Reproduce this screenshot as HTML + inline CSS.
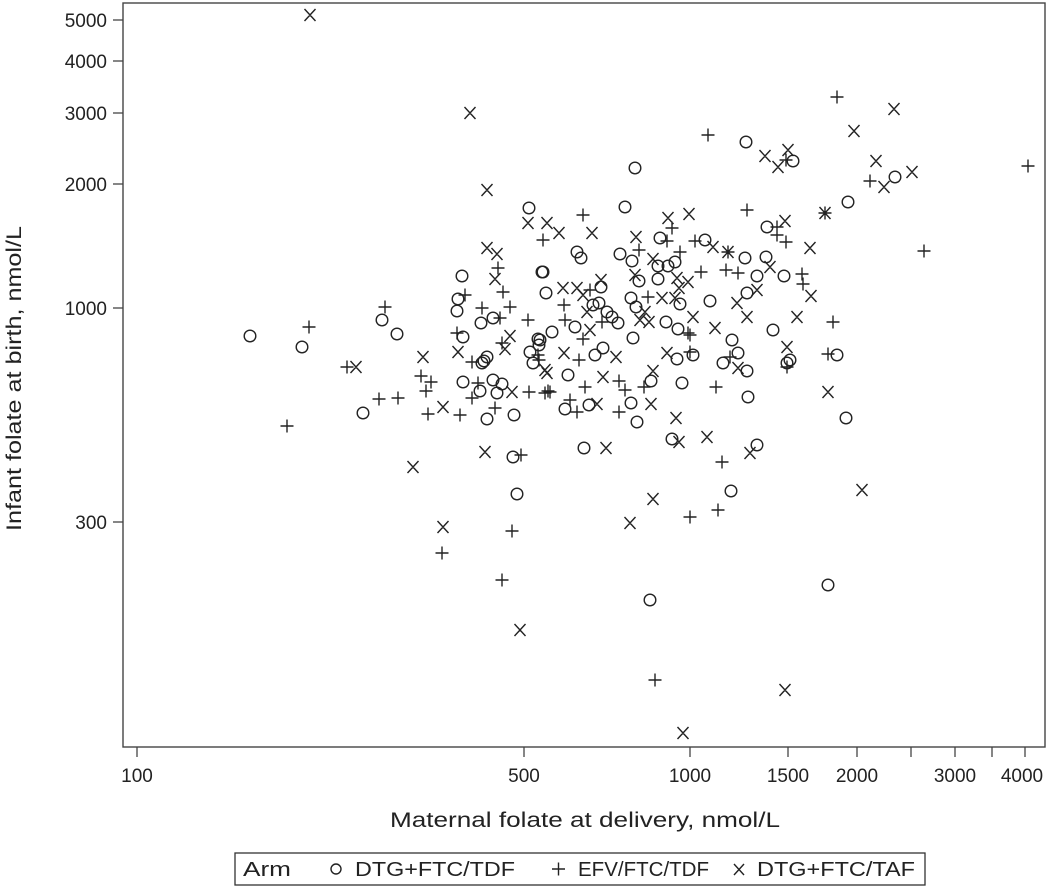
<!DOCTYPE html>
<html><head><meta charset="utf-8"><style>
html,body{margin:0;padding:0;background:#fff;}
svg{display:block;font-family:"Liberation Sans","DejaVu Sans",sans-serif;}
</style></head><body>
<svg id="s" width="1050" height="889" viewBox="0 0 1050 889" xmlns="http://www.w3.org/2000/svg">
<rect x="0" y="0" width="1050" height="889" fill="#fff"/>
<rect x="123" y="3" width="922" height="744" fill="none" stroke="#444" stroke-width="1.4"/>
<g stroke="#444" stroke-width="1.3">
<line x1="113" y1="20" x2="123" y2="20"/><line x1="113" y1="61" x2="123" y2="61"/><line x1="113" y1="113" x2="123" y2="113"/><line x1="113" y1="184" x2="123" y2="184"/><line x1="113" y1="308" x2="123" y2="308"/><line x1="113" y1="522" x2="123" y2="522"/>
<line x1="137" y1="747" x2="137" y2="757"/><line x1="524" y1="747" x2="524" y2="757"/><line x1="690" y1="747" x2="690" y2="757"/><line x1="788" y1="747" x2="788" y2="757"/><line x1="857" y1="747" x2="857" y2="757"/><line x1="911" y1="747" x2="911" y2="757"/><line x1="955" y1="747" x2="955" y2="757"/><line x1="992" y1="747" x2="992" y2="757"/><line x1="1025" y1="747" x2="1025" y2="757"/>
</g>
<g font-size="19" fill="#222" text-anchor="end">
<text x="107" y="27">5000</text><text x="107" y="68">4000</text><text x="107" y="120">3000</text><text x="107" y="191">2000</text><text x="107" y="315">1000</text><text x="107" y="529">300</text>
</g>
<g font-size="19" fill="#222" text-anchor="middle">
<text x="137" y="782">100</text><text x="524" y="782">500</text><text x="690" y="782">1000</text><text x="788" y="782">1500</text><text x="857" y="782">2000</text><text x="955" y="782">3000</text><text x="1022" y="782">4000</text>
</g>
<text x="390" y="827" font-size="21" fill="#222" textLength="390" lengthAdjust="spacingAndGlyphs">Maternal folate at delivery, nmol/L</text>
<text transform="translate(21,531) rotate(-90)" font-size="21" fill="#222" textLength="305" lengthAdjust="spacingAndGlyphs">Infant folate at birth, nmol/L</text>
<rect x="235" y="853" width="690" height="32" fill="none" stroke="#333" stroke-width="1.3"/>
<g font-size="20" fill="#222">
<text x="243" y="876" textLength="48" lengthAdjust="spacingAndGlyphs">Arm</text>
<circle cx="336" cy="869" r="5" fill="none" stroke="#222" stroke-width="1.4"/>
<text x="355" y="876" textLength="160" lengthAdjust="spacingAndGlyphs">DTG+FTC/TDF</text>
<path d="M552,869h13M558.5,862.5v13" stroke="#222" stroke-width="1.4"/>
<text x="578" y="876" textLength="131" lengthAdjust="spacingAndGlyphs">EFV/FTC/TDF</text>
<path d="M734,864l10,11M744,864l-10,11" stroke="#222" stroke-width="1.4"/>
<text x="757" y="876" textLength="158" lengthAdjust="spacingAndGlyphs">DTG+FTC/TAF</text>
</g>
<g id="pts" fill="none" stroke="#222" stroke-width="1.4"></g>
</svg>
<script>
(function(){
var O=[529,208,542,272,462,276,546,293,458,299,457,311,493,318,382,320,481,323,552,332,250,336,397,334,463,337,538,339,539,345,302,347,530,352,487,357,484,361,482,363,533,363,463,382,493,380,502,384,480,391,497,393,363,413,487,419,514,415,513,457,
625,207,767,227,660,238,705,240,745,258,766,257,577,252,581,258,620,254,632,261,675,262,668,266,658,266,757,276,784,276,543,272,639,281,658,279,601,287,747,293,593,305,599,303,631,298,680,304,710,301,607,312,636,307,612,317,618,323,666,322,678,329,773,330,575,327,633,338,603,348,732,340,540,340,595,355,677,359,693,355,738,353,723,363,790,360,787,363,837,355,747,371,568,375,651,381,682,383,748,397,565,409,589,405,631,403,637,422,672,439,584,448,757,445,
746,142,793,161,895,177,848,202,517,494,731,491,650,600,828,585,846,418,635,168];
var P=[543,240,498,268,503,292,465,295,385,307,482,308,510,307,500,318,528,320,309,327,457,333,502,343,538,355,539,360,472,362,347,367,421,376,431,382,478,383,426,391,529,392,545,393,550,392,379,399,398,398,472,398,428,414,460,415,495,408,287,426,521,455,
583,215,747,210,672,228,777,235,786,242,825,213,667,241,695,241,728,252,639,250,680,252,701,272,726,270,738,273,802,274,803,284,590,290,564,305,648,297,833,322,565,320,602,322,583,339,688,333,690,335,579,360,690,352,730,357,787,367,828,354,585,387,619,381,625,390,644,387,716,387,548,391,570,400,577,412,619,412,722,462,
837,97,708,135,786,160,870,181,1028,166,924,251,777,227,442,553,512,531,502,580,690,517,718,510,655,680];
var X=[487,190,528,223,547,223,487,248,497,254,495,279,510,336,505,349,458,352,423,357,545,370,547,373,356,367,512,392,443,407,485,452,413,467,
559,233,592,233,668,218,689,214,785,221,825,213,636,237,713,247,728,252,810,248,653,259,770,267,601,280,635,275,677,278,688,282,563,288,577,288,679,288,757,290,811,296,583,295,662,298,675,298,737,303,587,312,645,312,693,317,747,317,797,317,640,320,649,322,715,328,590,330,616,357,564,353,667,353,787,347,738,368,603,377,653,371,828,392,597,404,651,404,676,418,679,442,707,437,606,448,750,453,
310,15,470,113,894,109,854,131,765,156,788,150,778,167,876,161,912,172,884,187,443,527,520,630,630,523,653,499,683,733,785,690,862,490];
var d='';
for(var i=0;i<P.length;i+=2){d+='M'+(P[i]-6.5)+','+P[i+1]+'h13M'+P[i]+','+(P[i+1]-6.5)+'v13';}
for(var i=0;i<X.length;i+=2){d+='M'+(X[i]-5.5)+','+(X[i+1]-6)+'l11,12M'+(X[i]+5.5)+','+(X[i+1]-6)+'l-11,12';}
var g=document.getElementById('pts');
var p=document.createElementNS('http://www.w3.org/2000/svg','path');p.setAttribute('d',d);g.appendChild(p);
for(var i=0;i<O.length;i+=2){var c=document.createElementNS('http://www.w3.org/2000/svg','circle');c.setAttribute('cx',O[i]);c.setAttribute('cy',O[i+1]);c.setAttribute('r','5.8');g.appendChild(c);}
})();
</script>
</body></html>
